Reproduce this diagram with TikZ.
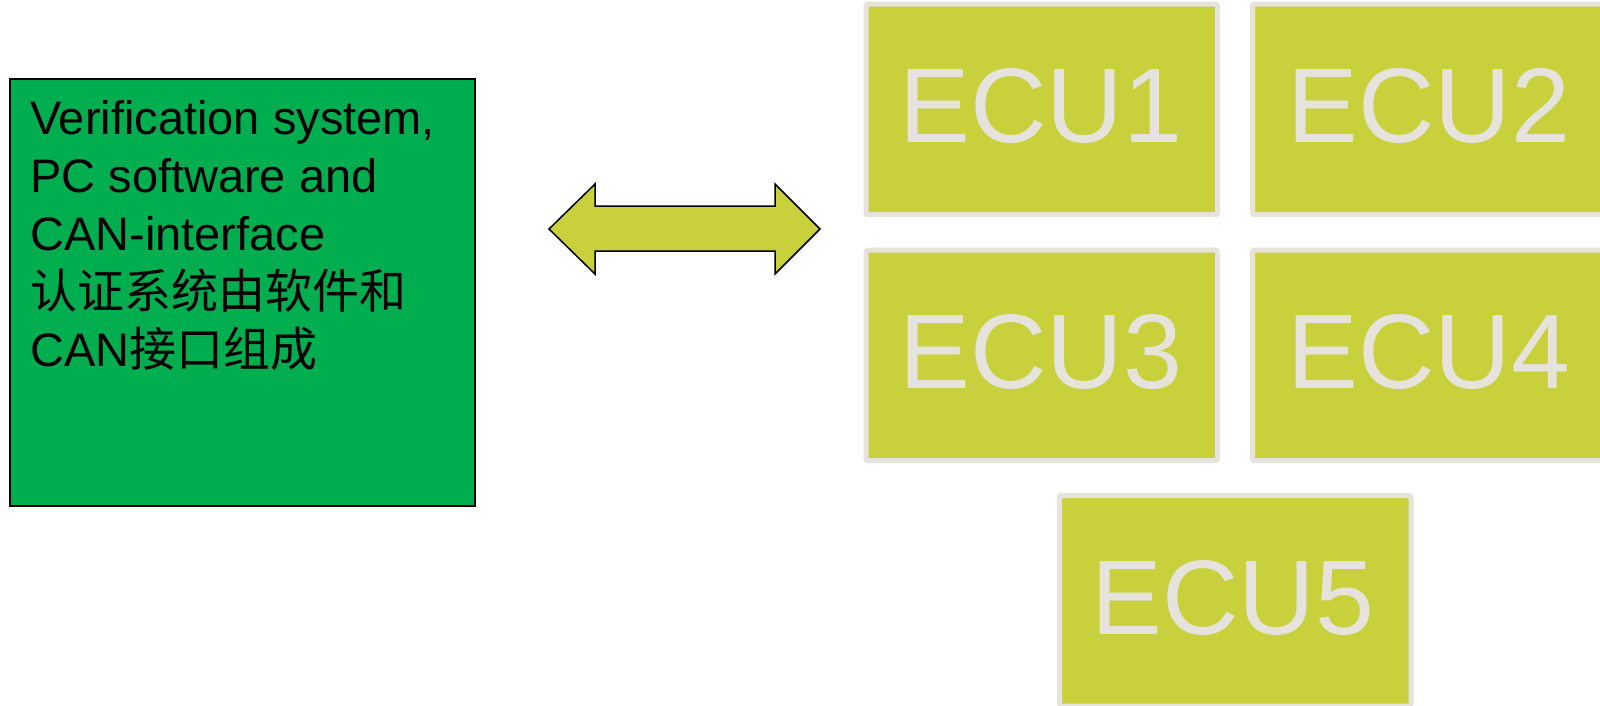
\documentclass[tikz,border=0pt]{standalone}
\usepackage{fontspec}
\setmainfont{Liberation Sans}
\newfontfamily\cjk{Noto Sans CJK SC}
\definecolor{pcgreen}{RGB}{0,174,80}
\definecolor{ecufill}{RGB}{200,209,59}
\definecolor{eculine}{RGB}{230,227,220}
\begin{document}
\begin{tikzpicture}[x=1pt,y=-1pt,
  pcbox/.style={draw=black, line width=1.5pt, fill=pcgreen, inner sep=0, outer sep=0, anchor=north west},
  pctext/.style={inner sep=0, anchor=base west, align=left, text=black,
    font=\fontsize{47}{58}\selectfont},
  ecubox/.style={draw=eculine, line width=5pt, fill=ecufill, rounded corners=2pt, inner sep=0, outer sep=0, anchor=north west,
    minimum width=351.5pt, minimum height=210.5pt},
  ecutext/.style={inner sep=0, anchor=base west, text=eculine, font=\fontsize{106}{106}\selectfont},
  blockarrow/.style={draw=black, line width=1.5pt, fill=ecufill, line join=miter}
]
\clip (0,0) rectangle (1600,705);
\fill[white] (0,0) rectangle (1600,705);
% PC box
\node[pcbox, minimum width=465pt, minimum height=427pt] (pc) at (10,79) {};
\node[pctext] (pct) at (30,366) {Verification system,\\PC software and\\CAN-interface\\{\cjk 认证系统由软件和}\\CAN{\cjk 接口组成}};
% block arrow
\draw[blockarrow] (549,229) -- (595,184) -- (595,206) -- (775,206) -- (775,184) -- (820,229)
  -- (775,274) -- (775,251) -- (595,251) -- (595,274) -- cycle;
% ECU boxes
\node[ecubox] (e1) at (866,4.2) {};
\node[ecubox] (e2) at (1252.5,4.2) {};
\node[ecubox] (e3) at (866,250.2) {};
\node[ecubox] (e4) at (1252.5,250.2) {};
\node[ecubox] (e5) at (1059.5,495.5) {};
\node[ecutext] (t1) at (899.5,142) {ECU1};
\node[ecutext] (t2) at (1287.5,142) {ECU2};
\node[ecutext] (t3) at (899.5,388) {ECU3};
\node[ecutext] (t4) at (1287.5,388) {ECU4};
\node[ecutext] (t5) at (1091.5,634) {ECU5};
\end{tikzpicture}
\end{document}
